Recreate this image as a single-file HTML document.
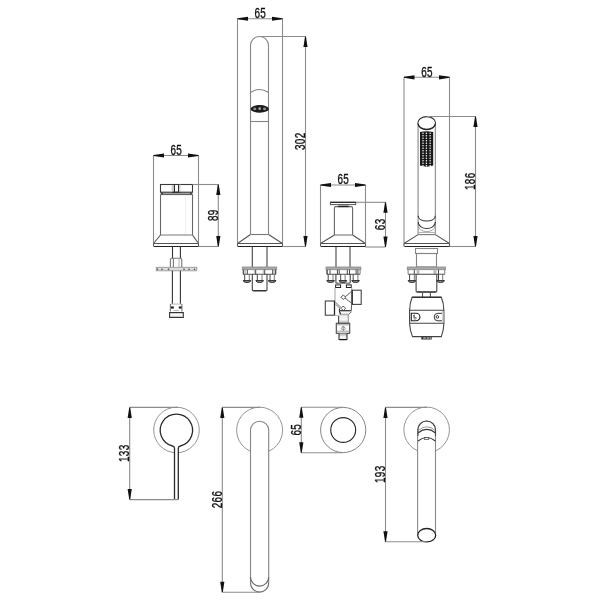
<!DOCTYPE html>
<html><head><meta charset="utf-8"><style>
html,body{margin:0;padding:0;background:#fff;}
svg{display:block;filter:grayscale(1);}
text{font-family:"Liberation Sans",sans-serif;font-size:14.4px;fill:#111;stroke:#111;stroke-width:0.35px;letter-spacing:0.5px;}
</style></head><body>
<svg width="600" height="600" viewBox="0 0 600 600">
<defs>
<linearGradient id="gneck" x1="0" y1="0" x2="0" y2="1"><stop offset="0" stop-color="#bbb"/><stop offset="0.2" stop-color="#eee"/><stop offset="0.6" stop-color="#fafafa"/><stop offset="1" stop-color="#aaa"/></linearGradient>
<linearGradient id="gbot" x1="0" y1="0" x2="0" y2="1"><stop offset="0" stop-color="#999"/><stop offset="0.5" stop-color="#eee"/><stop offset="1" stop-color="#fff"/></linearGradient>
</defs>
<rect width="600" height="600" fill="#fff"/>
<line x1="153.5" y1="155.5" x2="153.5" y2="243" stroke="#8c8c8c" stroke-width="1.1"/>
<line x1="198.5" y1="155.5" x2="198.5" y2="243" stroke="#8c8c8c" stroke-width="1.1"/>
<line x1="153.5" y1="155.5" x2="198.5" y2="155.5" stroke="#8c8c8c" stroke-width="1.1"/>
<polygon points="153.50,155.05 153.50,155.95 164.00,157.60 164.00,153.40" fill="#111"/>
<polygon points="198.50,155.05 198.50,155.95 188.00,157.60 188.00,153.40" fill="#111"/>
<text transform="translate(176.3,154.9) scale(0.69,1)" text-anchor="middle">65</text>
<rect x="160.5" y="192.3" width="32" height="2" fill="#a0a0a0"/>
<rect x="161.2" y="192.6" width="1.6" height="1.4" fill="#333"/><rect x="190.2" y="192.6" width="1.6" height="1.4" fill="#333"/>
<rect x="160.5" y="184.5" width="32" height="7.7" stroke="#3a3a3a" stroke-width="1.1" fill="none"/>
<rect x="171.6" y="185" width="2" height="7" fill="#d0d0d0"/>
<line x1="172" y1="192.2" x2="181" y2="192.2" stroke="#222" stroke-width="1"/>
<line x1="160.5" y1="194.6" x2="192.5" y2="194.6" stroke="#555" stroke-width="1"/>
<line x1="160.5" y1="194.5" x2="160.5" y2="235" stroke="#666" stroke-width="1.1"/>
<line x1="192.5" y1="194.5" x2="192.5" y2="235" stroke="#666" stroke-width="1.1"/>
<line x1="174.4" y1="184.5" x2="174.4" y2="192.2" stroke="#222" stroke-width="1.1"/>
<line x1="178.6" y1="184.5" x2="178.6" y2="192.2" stroke="#222" stroke-width="1.1"/>
<line x1="179.9" y1="184.5" x2="179.9" y2="192.2" stroke="#ccc" stroke-width="1.1"/>
<line x1="185.5" y1="196" x2="185.5" y2="235" stroke="#f0f0f0" stroke-width="1.1"/>
<path d="M160.5,235 L153.5,243.5 M192.5,235 L198.5,243.5" stroke="#555" stroke-width="1.1" fill="none"/>
<line x1="160.5" y1="235" x2="192.5" y2="235" stroke="#777" stroke-width="1.1"/>
<line x1="153.5" y1="243.5" x2="198.5" y2="243.5" stroke="#555" stroke-width="1.1"/>
<line x1="153.5" y1="243.5" x2="153.5" y2="246.5" stroke="#555" stroke-width="1.1"/>
<line x1="198.5" y1="243.5" x2="198.5" y2="246.5" stroke="#555" stroke-width="1.1"/>
<line x1="154.0" y1="246.5" x2="198.5" y2="246.5" stroke="#222" stroke-width="1.2"/>
<line x1="192.5" y1="184.5" x2="218.3" y2="184.5" stroke="#8c8c8c" stroke-width="1.1"/>
<line x1="198.5" y1="246.5" x2="218.3" y2="246.5" stroke="#8c8c8c" stroke-width="1.1"/>
<line x1="218.3" y1="184.5" x2="218.3" y2="246.5" stroke="#8c8c8c" stroke-width="1.1"/>
<polygon points="217.85,184.50 218.75,184.50 220.40,195.00 216.20,195.00" fill="#111"/>
<polygon points="217.85,246.50 218.75,246.50 220.40,236.00 216.20,236.00" fill="#111"/>
<text transform="translate(217.70000000000002,215.2) rotate(-90) scale(0.69,1)" text-anchor="middle">89</text>
<line x1="172.5" y1="246.5" x2="172.5" y2="258.5" stroke="#333" stroke-width="1.1"/>
<line x1="180.4" y1="246.5" x2="180.4" y2="258.5" stroke="#333" stroke-width="1.1"/>
<path d="M170.4,267 V259.5 Q170.4,258.3 171.6,258.3 H180.6 Q181.75,258.3 181.75,259.5 V267" stroke="#777" stroke-width="1.1" fill="none"/>
<line x1="173.4" y1="258.5" x2="173.4" y2="267" stroke="#777" stroke-width="1.1"/>
<line x1="179" y1="258.5" x2="179" y2="267" stroke="#bbb" stroke-width="1.1"/>
<rect x="156.3" y="267.3" width="40.5" height="3.5" stroke="#999" stroke-width="0.9" fill="#dcdcdc"/>
<circle cx="157.5" cy="269.2" r="0.8" fill="#444"/>
<circle cx="162" cy="269.2" r="0.8" fill="#444"/>
<circle cx="168.5" cy="269.2" r="0.8" fill="#444"/>
<circle cx="184" cy="269.2" r="0.8" fill="#444"/>
<circle cx="189" cy="269.2" r="0.8" fill="#444"/>
<circle cx="194.5" cy="269.2" r="0.8" fill="#444"/>
<line x1="172.4" y1="270.8" x2="172.4" y2="304.1" stroke="#333" stroke-width="1.1"/>
<line x1="180.4" y1="270.8" x2="180.4" y2="304.1" stroke="#333" stroke-width="1.1"/>
<line x1="170.4" y1="304.1" x2="181.9" y2="304.1" stroke="#bbb" stroke-width="1.1"/>
<line x1="170.4" y1="304.1" x2="170.4" y2="311.5" stroke="#777" stroke-width="1.1"/>
<line x1="181.9" y1="304.1" x2="181.9" y2="311.5" stroke="#777" stroke-width="1.1"/>
<rect x="171" y="306.4" width="2.8" height="2.2" fill="#222"/><rect x="178.8" y="306.4" width="2.8" height="2.2" fill="#222"/>
<line x1="173.6" y1="310.5" x2="179" y2="310.5" stroke="#bbb" stroke-width="1.1"/>
<path d="M169.6,312.6 H183.3 V317.5 H169.6 Z" stroke="#333" stroke-width="1.1" fill="none"/>
<line x1="170" y1="316.3" x2="183" y2="316.3" stroke="#aaa" stroke-width="0.8"/>
<line x1="237.5" y1="18.75" x2="237.5" y2="243" stroke="#8c8c8c" stroke-width="1.1"/>
<line x1="282.5" y1="18.75" x2="282.5" y2="243" stroke="#8c8c8c" stroke-width="1.1"/>
<line x1="237.5" y1="18.75" x2="282.5" y2="18.75" stroke="#8c8c8c" stroke-width="1.1"/>
<polygon points="237.50,18.30 237.50,19.20 248.00,20.85 248.00,16.65" fill="#111"/>
<polygon points="282.50,18.30 282.50,19.20 272.00,20.85 272.00,16.65" fill="#111"/>
<text transform="translate(260.3,18.15) scale(0.69,1)" text-anchor="middle">65</text>
<path d="M250.5,234.5 V45.5 A9,9 0 0 1 268.5,45.5 V234.5" stroke="#858585" stroke-width="1.1" fill="none"/>
<path d="M250.5,92.5 Q259.5,86.5 268.5,92.5" stroke="#858585" stroke-width="1.1" fill="none"/>
<ellipse cx="259.7" cy="108.9" rx="9.1" ry="3.8" fill="#1a1a1a"/>
<ellipse cx="254.8" cy="108.9" rx="1.6" ry="1.3" fill="#8a8a8a"/><ellipse cx="259.7" cy="108.6" rx="1.4" ry="1.6" fill="#9a9a9a"/><ellipse cx="264.6" cy="108.9" rx="1.6" ry="1.3" fill="#8a8a8a"/>
<line x1="250.5" y1="121.5" x2="268.5" y2="121.5" stroke="#858585" stroke-width="1.1"/>
<path d="M250.5,234.5 L237.5,243.5 M268.5,234.5 L282.5,243.5" stroke="#555" stroke-width="1.1" fill="none"/>
<line x1="250.5" y1="234.5" x2="268.5" y2="234.5" stroke="#777" stroke-width="1.1"/>
<line x1="237.5" y1="243.5" x2="282.5" y2="243.5" stroke="#555" stroke-width="1.1"/>
<line x1="237.5" y1="243.5" x2="237.5" y2="246.5" stroke="#555" stroke-width="1.1"/>
<line x1="282.5" y1="243.5" x2="282.5" y2="246.5" stroke="#555" stroke-width="1.1"/>
<line x1="238.0" y1="246.5" x2="282.5" y2="246.5" stroke="#222" stroke-width="1.2"/>
<line x1="259.5" y1="36.5" x2="305.5" y2="36.5" stroke="#8c8c8c" stroke-width="1.1"/>
<line x1="282.5" y1="246.5" x2="305.5" y2="246.5" stroke="#8c8c8c" stroke-width="1.1"/>
<line x1="305.5" y1="36.5" x2="305.5" y2="246.5" stroke="#8c8c8c" stroke-width="1.1"/>
<polygon points="305.05,36.50 305.95,36.50 307.60,47.00 303.40,47.00" fill="#111"/>
<polygon points="305.05,246.50 305.95,246.50 307.60,236.00 303.40,236.00" fill="#111"/>
<text transform="translate(304.9,141.2) rotate(-90) scale(0.69,1)" text-anchor="middle">302</text>
<line x1="252.3" y1="246.5" x2="252.3" y2="267" stroke="#444" stroke-width="1.1"/>
<line x1="267" y1="246.5" x2="267" y2="267" stroke="#444" stroke-width="1.1"/>
<rect x="242.3" y="267" width="34.39999999999998" height="2.7" stroke="#888" stroke-width="0.8" fill="#aaa"/>
<line x1="243.10000000000002" y1="274.3" x2="275.9" y2="274.3" stroke="#444" stroke-width="1.1"/>
<line x1="243.10000000000002" y1="269.7" x2="243.10000000000002" y2="274.3" stroke="#888" stroke-width="1.1"/>
<line x1="275.9" y1="269.7" x2="275.9" y2="274.3" stroke="#888" stroke-width="1.1"/>
<line x1="243.7" y1="269.7" x2="243.7" y2="274.3" stroke="#333" stroke-width="0.9"/>
<line x1="247.3" y1="269.7" x2="247.3" y2="274.3" stroke="#333" stroke-width="0.9"/>
<line x1="255.7" y1="269.7" x2="255.7" y2="274.3" stroke="#333" stroke-width="0.9"/>
<line x1="264.7" y1="269.7" x2="264.7" y2="274.3" stroke="#333" stroke-width="0.9"/>
<line x1="272.7" y1="269.7" x2="272.7" y2="274.3" stroke="#333" stroke-width="0.9"/>
<line x1="275.3" y1="269.7" x2="275.3" y2="274.3" stroke="#333" stroke-width="0.9"/>
<line x1="245.3" y1="269.7" x2="245.3" y2="274.3" stroke="#aaa" stroke-width="0.9"/>
<line x1="254.3" y1="269.7" x2="254.3" y2="274.3" stroke="#aaa" stroke-width="0.9"/>
<line x1="263.3" y1="269.7" x2="263.3" y2="274.3" stroke="#aaa" stroke-width="0.9"/>
<line x1="274" y1="269.7" x2="274" y2="274.3" stroke="#aaa" stroke-width="0.9"/>
<path d="M252.3,274.3 V289.7 Q252.3,290.7 253.3,290.7 H266 Q267,290.7 267,289.7 V274.3" stroke="#444" stroke-width="1.1" fill="none"/>
<line x1="253.3" y1="290.7" x2="266" y2="290.7" stroke="#333" stroke-width="1.3"/>
<rect x="244.7" y="274.9" width="4.600000000000023" height="5.4" fill="#fff"/>
<line x1="244.7" y1="274.3" x2="244.7" y2="280.4" stroke="#444" stroke-width="1"/>
<line x1="249.3" y1="274.3" x2="249.3" y2="280.4" stroke="#777" stroke-width="1"/>
<path d="M243.2,280.5 H250.8 A3.8,2 0 0 1 243.2,280.5 Z" fill="#8a8a8a" stroke="#2a2a2a" stroke-width="0.9"/>
<rect x="257.3" y="274.9" width="4.699999999999989" height="5.4" fill="#fff"/>
<line x1="257.3" y1="274.3" x2="257.3" y2="280.4" stroke="#444" stroke-width="1"/>
<line x1="262" y1="274.3" x2="262" y2="280.4" stroke="#777" stroke-width="1"/>
<path d="M255.84999999999997,280.5 H263.45 A3.8,2 0 0 1 255.84999999999997,280.5 Z" fill="#8a8a8a" stroke="#2a2a2a" stroke-width="0.9"/>
<rect x="270" y="274.9" width="4.300000000000011" height="5.4" fill="#fff"/>
<line x1="270" y1="274.3" x2="270" y2="280.4" stroke="#444" stroke-width="1"/>
<line x1="274.3" y1="274.3" x2="274.3" y2="280.4" stroke="#777" stroke-width="1"/>
<path d="M268.34999999999997,280.5 H275.95 A3.8,2 0 0 1 268.34999999999997,280.5 Z" fill="#8a8a8a" stroke="#2a2a2a" stroke-width="0.9"/>
<line x1="320.5" y1="185" x2="320.5" y2="243" stroke="#8c8c8c" stroke-width="1.1"/>
<line x1="365.5" y1="185" x2="365.5" y2="243" stroke="#8c8c8c" stroke-width="1.1"/>
<line x1="320.5" y1="185" x2="365.5" y2="185" stroke="#8c8c8c" stroke-width="1.1"/>
<polygon points="320.50,184.55 320.50,185.45 331.00,187.10 331.00,182.90" fill="#111"/>
<polygon points="365.50,184.55 365.50,185.45 355.00,187.10 355.00,182.90" fill="#111"/>
<text transform="translate(343.3,184.4) scale(0.69,1)" text-anchor="middle">65</text>
<rect x="338.2" y="204.6" width="10.5" height="2" fill="#aaa"/>
<path d="M334.4,235 V208 Q334.4,206.6 335.8,206.6 H351.2 Q352.6,206.6 352.6,208 V235" stroke="#666" stroke-width="1.1" fill="none"/>
<line x1="338.2" y1="206.6" x2="348.7" y2="206.6" stroke="#222" stroke-width="1.1"/>
<rect x="330.4" y="202.3" width="25.3" height="2.3" stroke="#555" stroke-width="1" fill="#fff"/>
<line x1="330.4" y1="202.3" x2="355.7" y2="202.3" stroke="#222" stroke-width="1.1"/>
<path d="M334.4,235 L320.5,243.5 M352.6,235 L365.5,243.5" stroke="#555" stroke-width="1.1" fill="none"/>
<line x1="334.4" y1="235" x2="352.6" y2="235" stroke="#777" stroke-width="1.1"/>
<line x1="320.5" y1="243.5" x2="365.5" y2="243.5" stroke="#555" stroke-width="1.1"/>
<line x1="320.5" y1="243.5" x2="320.5" y2="246.5" stroke="#555" stroke-width="1.1"/>
<line x1="365.5" y1="243.5" x2="365.5" y2="246.5" stroke="#555" stroke-width="1.1"/>
<line x1="321.0" y1="246.5" x2="365.5" y2="246.5" stroke="#222" stroke-width="1.2"/>
<line x1="356" y1="202.3" x2="385.5" y2="202.3" stroke="#8c8c8c" stroke-width="1.1"/>
<line x1="365.5" y1="247" x2="385.5" y2="247" stroke="#8c8c8c" stroke-width="1.1"/>
<line x1="385.5" y1="202.3" x2="385.5" y2="247" stroke="#8c8c8c" stroke-width="1.1"/>
<polygon points="385.05,202.30 385.95,202.30 387.60,212.80 383.40,212.80" fill="#111"/>
<polygon points="385.05,247.00 385.95,247.00 387.60,236.50 383.40,236.50" fill="#111"/>
<text transform="translate(384.9,224.35) rotate(-90) scale(0.69,1)" text-anchor="middle">63</text>
<line x1="336" y1="247" x2="336" y2="267" stroke="#444" stroke-width="1.1"/>
<line x1="350" y1="247" x2="350" y2="267" stroke="#444" stroke-width="1.1"/>
<rect x="326" y="267" width="34.89999999999998" height="2.7" stroke="#888" stroke-width="0.8" fill="#aaa"/>
<line x1="326.8" y1="274.3" x2="360.09999999999997" y2="274.3" stroke="#444" stroke-width="1.1"/>
<line x1="326.8" y1="269.7" x2="326.8" y2="274.3" stroke="#888" stroke-width="1.1"/>
<line x1="360.09999999999997" y1="269.7" x2="360.09999999999997" y2="274.3" stroke="#888" stroke-width="1.1"/>
<line x1="327.2" y1="269.7" x2="327.2" y2="274.3" stroke="#333" stroke-width="0.9"/>
<line x1="330" y1="269.7" x2="330" y2="274.3" stroke="#333" stroke-width="0.9"/>
<line x1="337.4" y1="269.7" x2="337.4" y2="274.3" stroke="#333" stroke-width="0.9"/>
<line x1="339.2" y1="269.7" x2="339.2" y2="274.3" stroke="#333" stroke-width="0.9"/>
<line x1="347.3" y1="269.7" x2="347.3" y2="274.3" stroke="#333" stroke-width="0.9"/>
<line x1="349.5" y1="269.7" x2="349.5" y2="274.3" stroke="#333" stroke-width="0.9"/>
<line x1="356.1" y1="269.7" x2="356.1" y2="274.3" stroke="#333" stroke-width="0.9"/>
<line x1="357.9" y1="269.7" x2="357.9" y2="274.3" stroke="#333" stroke-width="0.9"/>
<path d="M335.9,274.3 V282.2 Q335.9,283.2 336.9,283.2 H349.2 Q350.2,283.2 350.2,282.2 V274.3" stroke="#444" stroke-width="1.1" fill="none"/>
<line x1="336.9" y1="283.2" x2="349.2" y2="283.2" stroke="#999" stroke-width="1.3"/>
<rect x="328.2" y="274.9" width="4.800000000000011" height="5.4" fill="#fff"/>
<line x1="328.2" y1="274.3" x2="328.2" y2="280.4" stroke="#444" stroke-width="1"/>
<line x1="333" y1="274.3" x2="333" y2="280.4" stroke="#777" stroke-width="1"/>
<path d="M326.8,280.5 H334.40000000000003 A3.8,2 0 0 1 326.8,280.5 Z" fill="#8a8a8a" stroke="#2a2a2a" stroke-width="0.9"/>
<rect x="340.7" y="274.9" width="4.400000000000034" height="5.4" fill="#fff"/>
<line x1="340.7" y1="274.3" x2="340.7" y2="280.4" stroke="#444" stroke-width="1"/>
<line x1="345.1" y1="274.3" x2="345.1" y2="280.4" stroke="#777" stroke-width="1"/>
<path d="M339.09999999999997,280.5 H346.7 A3.8,2 0 0 1 339.09999999999997,280.5 Z" fill="#8a8a8a" stroke="#2a2a2a" stroke-width="0.9"/>
<rect x="353.2" y="274.9" width="4.699999999999989" height="5.4" fill="#fff"/>
<line x1="353.2" y1="274.3" x2="353.2" y2="280.4" stroke="#444" stroke-width="1"/>
<line x1="357.9" y1="274.3" x2="357.9" y2="280.4" stroke="#777" stroke-width="1"/>
<path d="M351.74999999999994,280.5 H359.34999999999997 A3.8,2 0 0 1 351.74999999999994,280.5 Z" fill="#8a8a8a" stroke="#2a2a2a" stroke-width="0.9"/>
<rect x="335.6" y="284.9" width="5" height="2.6" stroke="#222" stroke-width="1" fill="#fff"/>
<rect x="346.4" y="284.9" width="4.8" height="2.6" stroke="#222" stroke-width="1" fill="#fff"/>
<line x1="335" y1="287.8" x2="335" y2="301" stroke="#aaa" stroke-width="1.1"/>
<line x1="351.7" y1="287.8" x2="351.7" y2="290.4" stroke="#aaa" stroke-width="1.1"/>
<line x1="351.5" y1="304.4" x2="351.4" y2="310.6" stroke="#666" stroke-width="1.1"/>
<rect x="352.1" y="290.2" width="9.1" height="14.2" stroke="#444" stroke-width="1.1" fill="none"/>
<line x1="352.1" y1="290.2" x2="352.1" y2="304.4" stroke="#222" stroke-width="1.3"/>
<rect x="325.3" y="301" width="9.2" height="14.2" stroke="#444" stroke-width="1.1" fill="none"/>
<line x1="334.5" y1="301" x2="334.5" y2="315.2" stroke="#222" stroke-width="1.2"/>
<path d="M352,291 L345,296.8 M352,303.6 L345,298" stroke="#555" stroke-width="0.9" fill="none"/>
<path d="M351,292.5 L345.8,296.6 M351,302.2 L345.8,298.2" stroke="#aaa" stroke-width="0.7" fill="none"/>
<path d="M335.3,302 L341,307.5 M335.3,304 L340.2,308.6" stroke="#666" stroke-width="0.9" fill="none"/>
<path d="M343.3,294.9 L345.6,297.2 L343.3,299.5 L341,297.2 Z" stroke="#444" stroke-width="0.9" fill="#fff"/>
<path d="M343.3,306 L345.6,308.3 L343.3,310.6 L341,308.3 Z" stroke="#444" stroke-width="0.9" fill="#fff"/>
<rect x="339.8" y="310.6" width="11.6" height="1.5" fill="#c8c8c8"/>
<line x1="339.8" y1="310.6" x2="351.4" y2="310.6" stroke="#333" stroke-width="1"/>
<path d="M339.8,312 Q340.9,313 340.3,314.3 H348.8 Q349.6,313 351.4,312" stroke="#555" stroke-width="0.9" fill="none"/>
<path d="M339.6,308.6 Q338.8,311 339.9,312.6 Q341,314.6 339.6,316" stroke="#222" stroke-width="1" fill="none"/>
<line x1="334.4" y1="315.4" x2="339.4" y2="315.6" stroke="#aaa" stroke-width="0.9"/>
<rect x="338.6" y="314.3" width="9.7" height="9" fill="url(#gneck)"/>
<line x1="338.6" y1="316" x2="338.6" y2="323.4" stroke="#444" stroke-width="1.1"/>
<line x1="348.3" y1="314.3" x2="348.3" y2="323.4" stroke="#999" stroke-width="1.1"/>
<rect x="336.3" y="323.3" width="13.4" height="10" stroke="#444" stroke-width="1.1" fill="#fff"/>
<line x1="336.3" y1="324.8" x2="349.7" y2="324.8" stroke="#888" stroke-width="0.8"/>
<line x1="336.3" y1="331.2" x2="349.7" y2="331.2" stroke="#888" stroke-width="0.8"/>
<path d="M343.3,326 L345.3,328.3 L343.3,330.6 L341.3,328.3 Z M343.3,326 V330.6" stroke="#777" stroke-width="0.8" fill="none"/>
<rect x="339" y="333.3" width="8" height="6.3" fill="url(#gbot)"/>
<path d="M339,333.3 V339.5 H347 V333.3" stroke="#333" stroke-width="1.1" fill="none"/>
<line x1="339.5" y1="339.6" x2="346.5" y2="339.6" stroke="#111" stroke-width="1.3"/>
<line x1="404" y1="77.3" x2="404" y2="243.5" stroke="#8c8c8c" stroke-width="1.1"/>
<line x1="449.5" y1="77.3" x2="449.5" y2="243.5" stroke="#8c8c8c" stroke-width="1.1"/>
<line x1="404" y1="77.3" x2="449.5" y2="77.3" stroke="#8c8c8c" stroke-width="1.1"/>
<polygon points="404.00,76.85 404.00,77.75 414.50,79.40 414.50,75.20" fill="#111"/>
<polygon points="449.50,76.85 449.50,77.75 439.00,79.40 439.00,75.20" fill="#111"/>
<text transform="translate(427.05,76.7) scale(0.69,1)" text-anchor="middle">65</text>
<path d="M418.1,123 V234.6 M435.4,123 V234.6" stroke="#999" stroke-width="1.3" fill="none"/>
<ellipse cx="426.7" cy="122.9" rx="8.8" ry="6.3" fill="#fff" stroke="#333" stroke-width="1.1"/>
<path d="M418.2,124 A8.5,5.6 0 0 0 435.2,124" stroke="#222" stroke-width="1.1" fill="none"/>
<path d="M420,132 Q426.6,130.6 433.2,132 V165.6 Q426.6,167.8 420,165.6 Z" fill="#1a1a1a"/>
<circle cx="423" cy="133.3" r="0.75" fill="#fff"/>
<circle cx="426.4" cy="133.3" r="0.75" fill="#fff"/>
<circle cx="430.1" cy="133.3" r="0.75" fill="#fff"/>
<circle cx="423" cy="135.8" r="0.75" fill="#fff"/>
<circle cx="426.4" cy="135.8" r="0.75" fill="#fff"/>
<circle cx="430.1" cy="135.8" r="0.75" fill="#fff"/>
<circle cx="423" cy="138.3" r="0.75" fill="#fff"/>
<circle cx="426.4" cy="138.3" r="0.75" fill="#fff"/>
<circle cx="430.1" cy="138.3" r="0.75" fill="#fff"/>
<circle cx="423" cy="140.8" r="0.75" fill="#fff"/>
<circle cx="426.4" cy="140.8" r="0.75" fill="#fff"/>
<circle cx="430.1" cy="140.8" r="0.75" fill="#fff"/>
<circle cx="423" cy="143.3" r="0.75" fill="#fff"/>
<circle cx="426.4" cy="143.3" r="0.75" fill="#fff"/>
<circle cx="430.1" cy="143.3" r="0.75" fill="#fff"/>
<circle cx="423" cy="145.8" r="0.75" fill="#fff"/>
<circle cx="426.4" cy="145.8" r="0.75" fill="#fff"/>
<circle cx="430.1" cy="145.8" r="0.75" fill="#fff"/>
<circle cx="423" cy="148.3" r="0.75" fill="#fff"/>
<circle cx="426.4" cy="148.3" r="0.75" fill="#fff"/>
<circle cx="430.1" cy="148.3" r="0.75" fill="#fff"/>
<circle cx="423" cy="150.8" r="0.75" fill="#fff"/>
<circle cx="426.4" cy="150.8" r="0.75" fill="#fff"/>
<circle cx="430.1" cy="150.8" r="0.75" fill="#fff"/>
<circle cx="423" cy="153.3" r="0.75" fill="#fff"/>
<circle cx="426.4" cy="153.3" r="0.75" fill="#fff"/>
<circle cx="430.1" cy="153.3" r="0.75" fill="#fff"/>
<circle cx="423" cy="155.8" r="0.75" fill="#fff"/>
<circle cx="426.4" cy="155.8" r="0.75" fill="#fff"/>
<circle cx="430.1" cy="155.8" r="0.75" fill="#fff"/>
<circle cx="423" cy="158.3" r="0.75" fill="#fff"/>
<circle cx="426.4" cy="158.3" r="0.75" fill="#fff"/>
<circle cx="430.1" cy="158.3" r="0.75" fill="#fff"/>
<circle cx="423" cy="160.8" r="0.75" fill="#fff"/>
<circle cx="426.4" cy="160.8" r="0.75" fill="#fff"/>
<circle cx="430.1" cy="160.8" r="0.75" fill="#fff"/>
<circle cx="423" cy="163.3" r="0.75" fill="#fff"/>
<circle cx="426.4" cy="163.3" r="0.75" fill="#fff"/>
<circle cx="430.1" cy="163.3" r="0.75" fill="#fff"/>
<circle cx="423" cy="165.8" r="0.75" fill="#fff"/>
<circle cx="426.4" cy="165.8" r="0.75" fill="#fff"/>
<circle cx="430.1" cy="165.8" r="0.75" fill="#fff"/>
<path d="M418.1,215.8 C418.5,222.8 435,222.8 435.4,215.8" stroke="#333" stroke-width="1.1" fill="none"/>
<path d="M418.1,222 C418.5,230.6 435,230.6 435.4,222" stroke="#333" stroke-width="1.1" fill="none"/>
<path d="M418.3,225.8 C419,233.5 434.5,233.5 435.2,225.8" stroke="#999" stroke-width="0.9" fill="none"/>
<line x1="418.1" y1="232.5" x2="435.4" y2="232.5" stroke="#aaa" stroke-width="0.9"/>
<path d="M418.1,234.6 L404,243.5 M435.4,234.6 L449.5,243.5" stroke="#555" stroke-width="1.1" fill="none"/>
<line x1="418.1" y1="234.6" x2="435.4" y2="234.6" stroke="#777" stroke-width="1.1"/>
<line x1="404" y1="243.5" x2="449.5" y2="243.5" stroke="#555" stroke-width="1.1"/>
<line x1="404" y1="243.5" x2="404" y2="246.5" stroke="#555" stroke-width="1.1"/>
<line x1="449.5" y1="243.5" x2="449.5" y2="246.5" stroke="#555" stroke-width="1.1"/>
<line x1="404.5" y1="246.5" x2="449.5" y2="246.5" stroke="#222" stroke-width="1.2"/>
<line x1="426.7" y1="116.5" x2="475.5" y2="116.5" stroke="#8c8c8c" stroke-width="1.1"/>
<line x1="449.5" y1="246.5" x2="475.5" y2="246.5" stroke="#8c8c8c" stroke-width="1.1"/>
<line x1="475.5" y1="116.5" x2="475.5" y2="246.5" stroke="#8c8c8c" stroke-width="1.1"/>
<polygon points="475.05,116.50 475.95,116.50 477.60,127.00 473.40,127.00" fill="#111"/>
<polygon points="475.05,246.50 475.95,246.50 477.60,236.00 473.40,236.00" fill="#111"/>
<text transform="translate(474.9,181.2) rotate(-90) scale(0.69,1)" text-anchor="middle">186</text>
<rect x="415.5" y="248.5" width="22" height="5" stroke="#858585" stroke-width="1.1" fill="#fff"/>
<rect x="416.5" y="253.5" width="20" height="13.5" stroke="#858585" stroke-width="1.1" fill="none"/>
<rect x="407.3" y="267" width="38.19999999999999" height="2.7" stroke="#888" stroke-width="0.8" fill="#aaa"/>
<rect x="416.6" y="269.7" width="2.7999999999999545" height="4.6" fill="#bdbdbd"/>
<rect x="433.4" y="269.7" width="3.2000000000000455" height="4.6" fill="#bdbdbd"/>
<line x1="408.1" y1="274.3" x2="444.7" y2="274.3" stroke="#444" stroke-width="1.1"/>
<line x1="408.1" y1="269.7" x2="408.1" y2="274.3" stroke="#888" stroke-width="1.1"/>
<line x1="444.7" y1="269.7" x2="444.7" y2="274.3" stroke="#888" stroke-width="1.1"/>
<line x1="414.3" y1="269.7" x2="414.3" y2="274.3" stroke="#333" stroke-width="0.9"/>
<line x1="438.5" y1="269.7" x2="438.5" y2="274.3" stroke="#333" stroke-width="0.9"/>
<path d="M416.1,274.3 V291 Q416.1,292 417.1,292 H435.8 Q436.8,292 436.8,291 V274.3" stroke="#444" stroke-width="1.1" fill="none"/>
<line x1="417.1" y1="292" x2="435.8" y2="292" stroke="#333" stroke-width="1.3"/>
<rect x="409.6" y="274.9" width="4.699999999999989" height="5.4" fill="#fff"/>
<line x1="409.6" y1="274.3" x2="409.6" y2="280.4" stroke="#444" stroke-width="1"/>
<line x1="414.3" y1="274.3" x2="414.3" y2="280.4" stroke="#777" stroke-width="1"/>
<path d="M408.15000000000003,280.5 H415.75000000000006 A3.8,2 0 0 1 408.15000000000003,280.5 Z" fill="#8a8a8a" stroke="#2a2a2a" stroke-width="0.9"/>
<rect x="438.5" y="274.9" width="4.199999999999989" height="5.4" fill="#fff"/>
<line x1="438.5" y1="274.3" x2="438.5" y2="280.4" stroke="#444" stroke-width="1"/>
<line x1="442.7" y1="274.3" x2="442.7" y2="280.4" stroke="#777" stroke-width="1"/>
<path d="M436.8,280.5 H444.40000000000003 A3.8,2 0 0 1 436.8,280.5 Z" fill="#8a8a8a" stroke="#2a2a2a" stroke-width="0.9"/>
<line x1="422.5" y1="292" x2="422.5" y2="297.2" stroke="#555" stroke-width="1.1"/>
<line x1="430.4" y1="292" x2="430.4" y2="297.2" stroke="#555" stroke-width="1.1"/>
<path d="M412.1,297.2 H441.3 Q443.8,303 443.9,310.3 V323.3 Q443.8,330.5 441.3,336.6 H412.5 Q409.8,330.5 409.6,323.3 V310.3 Q409.8,303 412.1,297.2 Z" stroke="#444" stroke-width="1.1" fill="none"/>
<line x1="412.1" y1="297.2" x2="441.3" y2="297.2" stroke="#222" stroke-width="1.2"/>
<line x1="409.6" y1="310.3" x2="443.9" y2="310.3" stroke="#444" stroke-width="1.1"/>
<line x1="409.6" y1="323.3" x2="443.9" y2="323.3" stroke="#444" stroke-width="1.1"/>
<line x1="443.2" y1="311" x2="443.2" y2="322.6" stroke="#aaa" stroke-width="1.4"/>
<path d="M411.3,313.3 H416.2 A3.75,3.75 0 0 1 416.2,320.8 H411.3 Z" stroke="#222" stroke-width="1.1" fill="none"/>
<path d="M414.3,314.5 V319.6 M413,315.5 Q416.5,316.2 413,317.2 M415,317.3 Q418,318 415,319.3" stroke="#555" stroke-width="0.8" fill="none"/>
<path d="M442,313.3 H437.9 A3.75,3.75 0 0 0 437.9,320.8 H442" stroke="#333" stroke-width="1" fill="none"/>
<circle cx="437.4" cy="316.9" r="1.3" fill="none" stroke="#222" stroke-width="0.9"/>
<rect x="421.3" y="336.6" width="10.4" height="2.9" fill="#333"/>
<rect x="423.2" y="337.4" width="2.5" height="1.2" fill="#ccc"/><rect x="426.6" y="337.4" width="2.5" height="1.2" fill="#ccc"/><rect x="429.6" y="337.4" width="1.4" height="1.2" fill="#ccc"/>
<circle cx="176.5" cy="430" r="22.8" fill="none" stroke="#888" stroke-width="0.9"/>
<rect x="174.5" y="446" width="3.8" height="54" fill="#fff"/>
<path d="M174.5,499.5 V448.3 Q174.5,446.3 172.5,446 A16.2,16.2 0 1 1 180.3,446 Q178.3,446.3 178.3,448.3 V499.5" stroke="#2a2a2a" stroke-width="1.3" fill="none"/>
<line x1="129.7" y1="407.4" x2="178" y2="407.4" stroke="#8c8c8c" stroke-width="1.1"/>
<line x1="129.7" y1="499.6" x2="178.5" y2="499.6" stroke="#8c8c8c" stroke-width="1.1"/>
<line x1="129.7" y1="407.4" x2="129.7" y2="499.6" stroke="#8c8c8c" stroke-width="1.1"/>
<polygon points="129.25,407.40 130.15,407.40 131.80,417.90 127.60,417.90" fill="#111"/>
<polygon points="129.25,499.60 130.15,499.60 131.80,489.10 127.60,489.10" fill="#111"/>
<text transform="translate(129.1,453.2) rotate(-90) scale(0.69,1)" text-anchor="middle">133</text>
<path d="M250.5,451.3 A23,23 0 1 1 268.7,451.3" stroke="#888" stroke-width="0.9" fill="none"/>
<path d="M250.5,583 V430.4 A9.1,9.1 0 0 1 268.7,430.4 V583" stroke="#858585" stroke-width="1.1" fill="none"/>
<path d="M250.5,577 A9.1,9.1 0 0 0 268.7,577" stroke="#666" stroke-width="1.1" fill="none"/>
<path d="M250.5,583 A9.1,9.1 0 0 0 268.7,583" stroke="#666" stroke-width="1.1" fill="none"/>
<line x1="222.3" y1="407.4" x2="260" y2="407.4" stroke="#8c8c8c" stroke-width="1.1"/>
<line x1="222.3" y1="592.3" x2="260" y2="592.3" stroke="#8c8c8c" stroke-width="1.1"/>
<line x1="222.3" y1="407.4" x2="222.3" y2="592.3" stroke="#8c8c8c" stroke-width="1.1"/>
<polygon points="221.85,407.40 222.75,407.40 224.40,417.90 220.20,417.90" fill="#111"/>
<polygon points="221.85,592.30 222.75,592.30 224.40,581.80 220.20,581.80" fill="#111"/>
<text transform="translate(221.70000000000002,499.54999999999995) rotate(-90) scale(0.69,1)" text-anchor="middle">266</text>
<circle cx="343.2" cy="430" r="22.6" fill="none" stroke="#777" stroke-width="0.9"/>
<circle cx="343.2" cy="430" r="12.45" fill="none" stroke="#2a2a2a" stroke-width="1.15"/>
<line x1="301.3" y1="407.3" x2="343" y2="407.3" stroke="#8c8c8c" stroke-width="1.1"/>
<line x1="301.3" y1="452.7" x2="343" y2="452.7" stroke="#8c8c8c" stroke-width="1.1"/>
<line x1="301.3" y1="407.3" x2="301.3" y2="452.7" stroke="#8c8c8c" stroke-width="1.1"/>
<polygon points="300.85,407.30 301.75,407.30 303.40,417.80 299.20,417.80" fill="#111"/>
<polygon points="300.85,452.70 301.75,452.70 303.40,442.20 299.20,442.20" fill="#111"/>
<text transform="translate(300.7,429.7) rotate(-90) scale(0.69,1)" text-anchor="middle">65</text>
<path d="M417.6,450.8 A22.8,22.8 0 1 1 435.7,450.8" stroke="#888" stroke-width="0.9" fill="none"/>
<path d="M417.6,535 V429.7 A8.95,8.7 0 0 1 435.5,429.7 V535" stroke="#8a8a8a" stroke-width="1.1" fill="none"/>
<path d="M418,436 V429.7 A8.75,8.7 0 0 1 435.5,429.7 V436" stroke="#444" stroke-width="1.1" fill="none"/>
<path d="M418.3,430.5 Q426.9,423 435.2,430.5" stroke="#999" stroke-width="1" fill="none"/>
<path d="M418.3,432.7 Q426.9,426 435.2,432.7" stroke="#333" stroke-width="1.1" fill="none"/>
<path d="M418,441 Q426.9,434 435.4,441" stroke="#333" stroke-width="1.1" fill="none"/>
<rect x="424.3" y="437.6" width="4.5" height="1.7" stroke="#444" stroke-width="0.8" fill="#fff"/>
<ellipse cx="426.7" cy="535.2" rx="9" ry="6.7" fill="#fff" stroke="#222" stroke-width="1.3"/>
<line x1="385.5" y1="407.4" x2="427" y2="407.4" stroke="#8c8c8c" stroke-width="1.1"/>
<line x1="385.5" y1="541.8" x2="427" y2="541.8" stroke="#8c8c8c" stroke-width="1.1"/>
<line x1="385.5" y1="407.4" x2="385.5" y2="541.8" stroke="#8c8c8c" stroke-width="1.1"/>
<polygon points="385.05,407.40 385.95,407.40 387.60,417.90 383.40,417.90" fill="#111"/>
<polygon points="385.05,541.80 385.95,541.80 387.60,531.30 383.40,531.30" fill="#111"/>
<text transform="translate(384.9,474.29999999999995) rotate(-90) scale(0.69,1)" text-anchor="middle">193</text>
</svg>
</body></html>
